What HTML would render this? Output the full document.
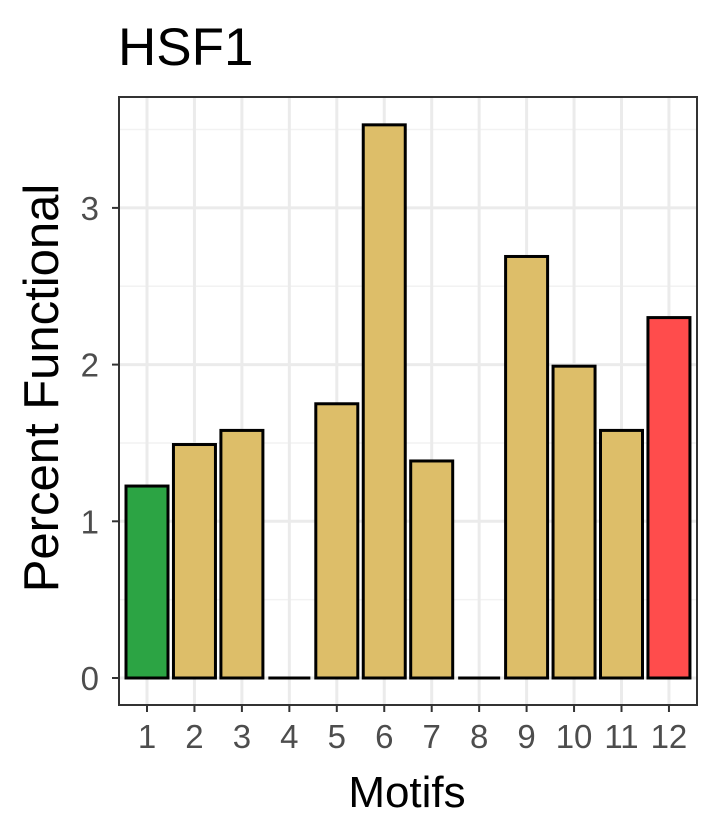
<!DOCTYPE html>
<html><head><meta charset="utf-8"><style>body{margin:0;background:#fff}svg{display:block}</style></head>
<body>
<svg id="chart" width="720" height="840" xmlns="http://www.w3.org/2000/svg" font-family="Liberation Sans, sans-serif">
<text x="118" y="65" font-size="53" fill="#000">HSF1</text>
<g id="grid"></g><g id="bars"></g><g id="axes"></g>
<text x="407" y="807" font-size="44" text-anchor="middle" fill="#000">Motifs</text>
<text transform="translate(58,388) rotate(-90)" font-size="49" text-anchor="middle" fill="#000">Percent Functional</text>
</svg>
<script>
const categories=["1","2","3","4","5","6","7","8","9","10","11","12"];
const values=[1.225,1.49,1.58,0,1.75,3.53,1.385,0,2.69,1.99,1.58,2.30];
const colors=["#2ca444","#ddbe69","#ddbe69","#ddbe69","#ddbe69","#ddbe69","#ddbe69","#ddbe69","#ddbe69","#ddbe69","#ddbe69","#ff4c4c"];
const yTicks=[0,1,2,3];
const yMinor=[0.5,1.5,2.5,3.5];
const NS="http://www.w3.org/2000/svg";
const L=119,R=697,T=97,B=705;
const y=v=>678-v*156.7;
const x=i=>147+i*47.45;
const bw=42;
function mk(t,a,p){const e=document.createElementNS(NS,t);for(const k in a)e.setAttribute(k,a[k]);p.appendChild(e);return e;}
const g=document.getElementById('grid'),b=document.getElementById('bars'),ax=document.getElementById('axes');
mk('rect',{x:L,y:T,width:R-L,height:B-T,fill:'#fff'},g);
yMinor.forEach(v=>{const e=mk('line',{x1:L,x2:R,y1:y(v),y2:y(v),stroke:'#f2f2f2','stroke-width':1.5},g);

});
yTicks.forEach(v=>{const e=mk('line',{x1:L,x2:R,y1:y(v),y2:y(v),stroke:'#ebebeb','stroke-width':3},g);

});
categories.forEach((c,i)=>{const e=mk('line',{x1:x(i),x2:x(i),y1:T,y2:B,stroke:'#ebebeb','stroke-width':3},g);

});
values.forEach((v,i)=>{let e;
if(v===0){e=mk('line',{x1:x(i)-bw/2,x2:x(i)+bw/2,y1:y(0),y2:y(0),stroke:'#000','stroke-width':3},b);}
else{e=mk('rect',{x:x(i)-bw/2,y:y(v),width:bw,height:y(0)-y(v),fill:colors[i],stroke:'#000','stroke-width':3},b);}

});
mk('rect',{x:L,y:T,width:R-L,height:B-T,fill:'none',stroke:'#333','stroke-width':2},ax);
yTicks.forEach(v=>{mk('line',{x1:L-7,x2:L,y1:y(v),y2:y(v),stroke:'#333','stroke-width':2},ax);
const t=mk('text',{x:L-20,y:y(v)+12,'font-size':33,'text-anchor':'end',fill:'#4d4d4d'},ax);t.textContent=v;

});
categories.forEach((c,i)=>{mk('line',{x1:x(i),x2:x(i),y1:B,y2:B+7,stroke:'#333','stroke-width':2},ax);
const t=mk('text',{x:x(i),y:B+43,'font-size':33,'text-anchor':'middle',fill:'#4d4d4d'},ax);t.textContent=c;

});
</script>
</body></html>
